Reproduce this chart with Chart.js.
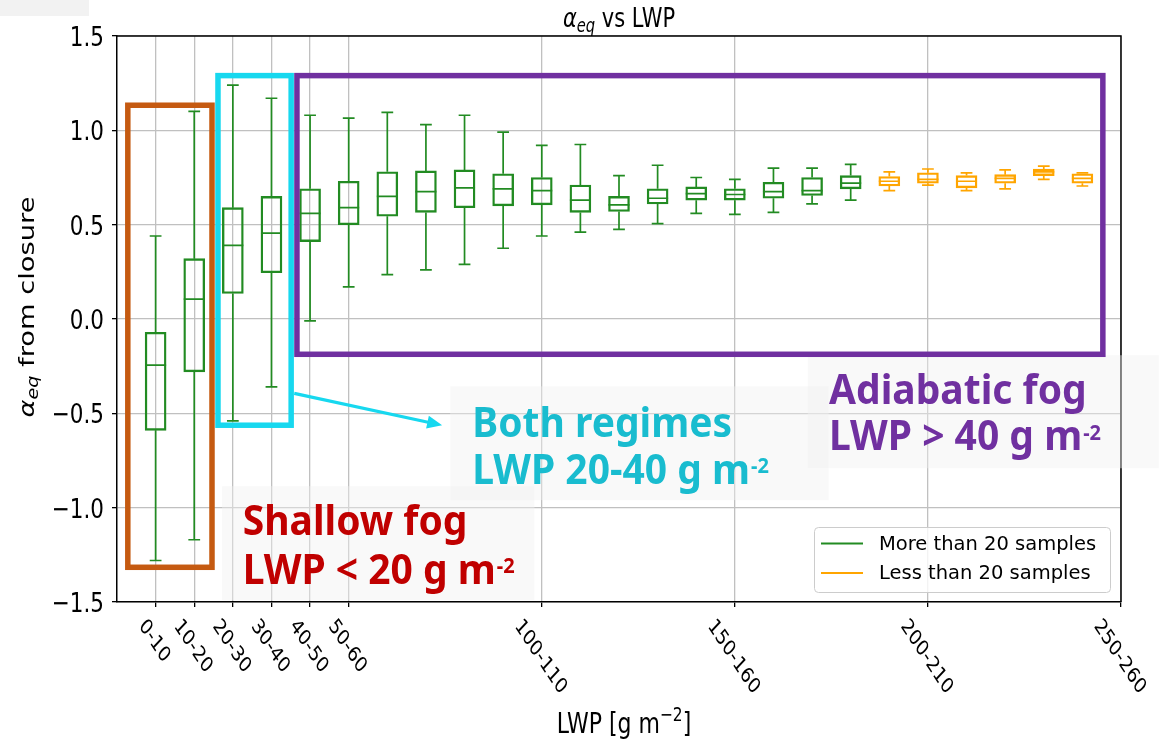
<!DOCTYPE html>
<html>
<head>
<meta charset="utf-8">
<script src="https://cdn.jsdelivr.net/npm/chart.js@4.4.1/dist/chart.umd.min.js"></script>
<style>
html, body { margin: 0; padding: 0; background: #fff; }
canvas { display: block; }
</style>
</head>
<body>
<canvas id="chart" width="1159" height="743"></canvas>
<script>
// LWP bins (g m-2)
const categories = [
    "0-10", "10-20", "20-30", "30-40", "40-50", "50-60", "60-70", "70-80", "80-90", "90-100",
    "100-110", "110-120", "120-130", "130-140", "140-150", "150-160", "160-170", "170-180",
    "180-190", "190-200", "200-210", "210-220", "220-230", "230-240", "240-250", "250-260"
];

const shownTicks = ["0-10", "10-20", "20-30", "30-40", "40-50", "50-60", "100-110", "150-160", "200-210", "250-260"];

const yTickLabels = ["\u22121.5", "\u22121.0", "\u22120.5", "0.0", "0.5", "1.0", "1.5"];

// box statistics per bin
const lowerWhisker = [-1.28, -1.17, -0.54, -0.36, -0.01, 0.17, 0.235, 0.26, 0.29, 0.375, 0.44, 0.46, 0.475, 0.505, 0.56, 0.555, 0.565, 0.61, 0.63, 0.68, 0.71, 0.68, 0.69, 0.74, 0.705];
const lowerQuartile = [-0.59, -0.28, 0.135, 0.245, 0.41, 0.50, 0.545, 0.565, 0.59, 0.60, 0.605, 0.565, 0.57, 0.61, 0.63, 0.63, 0.64, 0.655, 0.69, 0.705, 0.72, 0.695, 0.72, 0.76, 0.72];
const medians = [-0.245, 0.105, 0.39, 0.455, 0.56, 0.59, 0.65, 0.675, 0.695, 0.69, 0.68, 0.63, 0.605, 0.64, 0.665, 0.66, 0.675, 0.68, 0.72, 0.73, 0.74, 0.73, 0.745, 0.78, 0.745];
const upperQuartile = [-0.07, 0.32, 0.59, 0.65, 0.69, 0.73, 0.78, 0.785, 0.79, 0.77, 0.75, 0.71, 0.65, 0.69, 0.70, 0.69, 0.725, 0.75, 0.76, 0.755, 0.775, 0.76, 0.765, 0.795, 0.77];
const upperWhisker = [0.44, 1.10, 1.24, 1.17, 1.08, 1.065, 1.095, 1.03, 1.08, 0.99, 0.92, 0.925, 0.76, 0.815, 0.75, 0.74, 0.80, 0.80, 0.82, 0.78, 0.795, 0.775, 0.79, 0.81, 0.775];
const moreThan20 = [
    true, true, true, true, true, true, true, true, true, true,
    true, true, true, true, true, true, true, true, true,
    false, false, false, false, false, false
];

const seriesLabels = ["More than 20 samples", "Less than 20 samples"];
const seriesColors = ["#228b22", "#ffa500"];

// hand drawn regime boxes and notes, placed in data units
const regions = [
    { x0: -0.72, x1: 1.46, y0: -1.316, y1: 1.133, color: "#c55a11" },
    { x0: 1.615, x1: 3.51, y0: -0.563, y1: 1.29, color: "#17d8ef" },
    { x0: 3.66, x1: 24.53, y0: -0.187, y1: 1.29, color: "#7030a0" }
];

const notes = [
    { lines: ["Shallow fog", "LWP < 20 g m"], x: 2.256, y: [-1.146, -1.402], color: "#c00000", box: [1.72, 9.81, -0.886, -1.49] },
    { lines: ["Both regimes", "LWP 20-40 g m"], x: 8.2, y: [-0.625, -0.872], color: "#19bccf", box: [7.63, 17.43, -0.357, -0.96] },
    { lines: ["Adiabatic fog", "LWP > 40 g m"], x: 17.44, y: [-0.448, -0.696], color: "#7030a0", box: [16.89, 25.98, -0.192, -0.791] }
];

const arrow = { x0: 3.59, y0: -0.394, x1: 7.42, y1: -0.563, color: "#17d8ef" };

const STRETCH = 1.27;
const BOX_WIDTH = 21;

function drawRuns(ctx, runs, x, y, o)
{
    const size = o.size;
    const fontFor = r =>
        `${r.italic ? "italic " : ""}${(r.sub || r.sup) ? size * 0.7 : size}px "DejaVu Sans"`;

    const widths = runs.map(r =>
    {
        ctx.font = fontFor(r);
        return ctx.measureText(r.text).width;
    });

    const total = widths.reduce((a, b) => a + b, 0);

    ctx.save();
    ctx.translate(x, y);
    ctx.scale(1, o.stretch || 1);
    ctx.rotate(o.rotate || 0);
    ctx.fillStyle = o.color || "#000";
    ctx.textAlign = "left";
    ctx.textBaseline = "alphabetic";

    let cx = o.align === "center" ? -total / 2 : (o.align === "right" ? -total : 0);

    runs.forEach((r, i) =>
    {
        ctx.font = fontFor(r);
        const off = r.sub ? size * 0.2 : (r.sup ? -size * 0.42 : 0);
        ctx.fillText(r.text, cx, (o.dy || 0) + off);
        cx += widths[i];
    });

    ctx.restore();
}

const whiskers = {
    id: "whiskers",
    afterDatasetsDraw(chart)
    {
        const { ctx } = chart;
        const x = chart.scales.x;
        const y = chart.scales.y;

        ctx.save();
        ctx.lineWidth = 1.7;

        medians.forEach((m, i) =>
        {
            const cx = x.getPixelForValue(i);
            const half = BOX_WIDTH / 2;
            const cap = BOX_WIDTH * 0.28;

            ctx.strokeStyle = moreThan20[i] ? seriesColors[0] : seriesColors[1];
            ctx.beginPath();

            // whiskers
            ctx.moveTo(cx, y.getPixelForValue(upperQuartile[i]));
            ctx.lineTo(cx, y.getPixelForValue(upperWhisker[i]));
            ctx.moveTo(cx, y.getPixelForValue(lowerQuartile[i]));
            ctx.lineTo(cx, y.getPixelForValue(lowerWhisker[i]));

            // caps
            ctx.moveTo(cx - cap, y.getPixelForValue(upperWhisker[i]));
            ctx.lineTo(cx + cap, y.getPixelForValue(upperWhisker[i]));
            ctx.moveTo(cx - cap, y.getPixelForValue(lowerWhisker[i]));
            ctx.lineTo(cx + cap, y.getPixelForValue(lowerWhisker[i]));

            // median
            ctx.moveTo(cx - half, y.getPixelForValue(m));
            ctx.lineTo(cx + half, y.getPixelForValue(m));
            ctx.stroke();
        });

        ctx.restore();
    }
};

const overlay = {
    id: "overlay",
    afterDraw(chart)
    {
        const { ctx, chartArea: area } = chart;
        const x = chart.scales.x;
        const y = chart.scales.y;

        ctx.save();

        // stray grey patch at the top left of the picture
        ctx.fillStyle = "#f2f2f2";
        ctx.fillRect(0, 0, 89, 16);

        // top and right spines
        ctx.strokeStyle = "#000";
        ctx.lineWidth = 1.5;
        ctx.beginPath();
        ctx.moveTo(area.left, area.top);
        ctx.lineTo(area.right, area.top);
        ctx.lineTo(area.right, area.bottom);
        ctx.stroke();

        // note backgrounds
        notes.forEach(n =>
        {
            const l = x.getPixelForValue(n.box[0]);
            const r = x.getPixelForValue(n.box[1]);
            const t = y.getPixelForValue(n.box[2]);
            const b = y.getPixelForValue(n.box[3]);
            ctx.fillStyle = "rgba(240,240,240,0.42)";
            ctx.fillRect(l, t, r - l, b - t);
        });

        // regime frames
        ctx.lineWidth = 5.5;
        regions.forEach(g =>
        {
            const l = x.getPixelForValue(g.x0);
            const r = x.getPixelForValue(g.x1);
            const t = y.getPixelForValue(g.y1);
            const b = y.getPixelForValue(g.y0);
            ctx.strokeStyle = g.color;
            ctx.strokeRect(l, t, r - l, b - t);
        });

        // arrow
        const ax0 = x.getPixelForValue(arrow.x0);
        const ay0 = y.getPixelForValue(arrow.y0);
        const ax1 = x.getPixelForValue(arrow.x1);
        const ay1 = y.getPixelForValue(arrow.y1);
        const ang = Math.atan2(ay1 - ay0, ax1 - ax0);
        const head = 15;
        const hw = 6.5;
        const c = Math.cos(ang);
        const s = Math.sin(ang);

        ctx.strokeStyle = arrow.color;
        ctx.fillStyle = arrow.color;
        ctx.lineWidth = 3.2;
        ctx.beginPath();
        ctx.moveTo(ax0, ay0);
        ctx.lineTo(ax1 - c * head * 0.8, ay1 - s * head * 0.8);
        ctx.stroke();
        ctx.beginPath();
        ctx.moveTo(ax1, ay1);
        ctx.lineTo(ax1 - c * head - s * hw, ay1 - s * head + c * hw);
        ctx.lineTo(ax1 - c * head + s * hw, ay1 - s * head - c * hw);
        ctx.closePath();
        ctx.fill();

        // note texts
        notes.forEach(n =>
        {
            const tx = x.getPixelForValue(n.x);
            n.lines.forEach((line, i) =>
            {
                const ty = y.getPixelForValue(n.y[i]);
                ctx.save();
                ctx.translate(tx, ty);
                ctx.scale(1, 1.07);
                ctx.fillStyle = n.color;
                ctx.textAlign = "left";
                ctx.textBaseline = "alphabetic";
                ctx.font = 'bold 39px "Noto Sans"';
                ctx.fillText(line, 0, 0);

                if(i === 1)
                {
                    const w = ctx.measureText(line).width;
                    ctx.font = 'bold 20px "Noto Sans"';
                    ctx.fillText("-2", w + 1, -10);
                }

                ctx.restore();
            });
        });

        // legend
        const lw = 296;
        const lh = 65;
        const lx = area.right - 11 - lw;
        const ly = area.bottom - 10 - lh;

        ctx.fillStyle = "rgba(255,255,255,0.8)";
        ctx.strokeStyle = "#cccccc";
        ctx.lineWidth = 1;
        ctx.beginPath();
        ctx.roundRect(lx + 0.5, ly + 0.5, lw, lh, 4);
        ctx.fill();
        ctx.stroke();

        seriesLabels.forEach((label, i) =>
        {
            const rowY = ly + 16.5 + i * 29.5;
            ctx.strokeStyle = seriesColors[i];
            ctx.lineWidth = 2;
            ctx.beginPath();
            ctx.moveTo(lx + 7, rowY);
            ctx.lineTo(lx + 49, rowY);
            ctx.stroke();

            ctx.fillStyle = "#000";
            ctx.font = '19.5px "DejaVu Sans"';
            ctx.textAlign = "left";
            ctx.textBaseline = "middle";
            ctx.fillText(label, lx + 65, rowY + 1);
        });

        ctx.restore();

        // y tick labels
        y.ticks.forEach((t, i) =>
        {
            drawRuns(ctx, [{ text: yTickLabels[i] }], area.left - 13, y.getPixelForValue(t.value),
                { size: 21.5, stretch: STRETCH, align: "right", dy: 21.5 * 0.365 });
        });

        // x tick labels, rotated
        const theta = 50 * Math.PI / 180;
        const xs = 17;
        x.ticks.forEach(t =>
        {
            const label = categories[t.value];
            ctx.font = `${xs}px "DejaVu Sans"`;
            const w = ctx.measureText(label).width;
            const h = 0.73 * xs;
            const H = STRETCH * (w * Math.sin(theta) + h * Math.cos(theta));
            drawRuns(ctx, [{ text: label }], x.getPixelForValue(t.value), area.bottom + 14 + H / 2,
                { size: xs, stretch: STRETCH, rotate: theta, align: "center", dy: xs * 0.365 });
        });

        // title
        drawRuns(ctx, [
            { text: "\u03b1", italic: true },
            { text: "eq", italic: true, sub: true },
            { text: " vs LWP" }
        ], (area.left + area.right) / 2, 27, { size: 21, stretch: STRETCH, align: "center" });

        // axis titles
        drawRuns(ctx, [
            { text: "LWP [g m" },
            { text: "\u22122", sup: true },
            { text: "]" }
        ], (area.left + area.right) / 2 + 5, 733, { size: 22, stretch: STRETCH, align: "center" });

        drawRuns(ctx, [
            { text: "\u03b1", italic: true },
            { text: "eq", italic: true, sub: true },
            { text: " from closure" }
        ], 33.5, (area.top + area.bottom) / 2 - 12, { size: 21.5, stretch: STRETCH, rotate: -Math.PI / 2, align: "center" });
    }
};

const greenData = [];
const orangeData = [];

medians.forEach((m, i) =>
{
    const point = { x: i, y: [lowerQuartile[i], upperQuartile[i]] };
    (moreThan20[i] ? greenData : orangeData).push(point);
});

const tickPositions = shownTicks.map(l => categories.indexOf(l));

const gridColor = "#c0c0c0";

new Chart(
    document.getElementById("chart"),
    {
        type: "bar",
        data:
        {
            datasets: [
                {
                    label: seriesLabels[0],
                    data: greenData,
                    borderColor: seriesColors[0],
                    backgroundColor: "rgba(0,0,0,0)",
                    borderWidth: 1.7,
                    borderSkipped: false,
                    barThickness: BOX_WIDTH,
                    grouped: false
                },
                {
                    label: seriesLabels[1],
                    data: orangeData,
                    borderColor: seriesColors[1],
                    backgroundColor: "rgba(0,0,0,0)",
                    borderWidth: 1.7,
                    borderSkipped: false,
                    barThickness: BOX_WIDTH,
                    grouped: false
                }
            ]
        },
        options:
        {
            responsive: false,
            animation: false,
            devicePixelRatio: 1,
            layout: { padding: { left: 112, right: 38, top: 36, bottom: 136 } },
            plugins:
            {
                legend: { display: false },
                tooltip: { enabled: false }
            },
            scales:
            {
                x:
                {
                    type: "linear",
                    min: -1,
                    max: 25,
                    offset: false,
                    afterBuildTicks: scale =>
                    {
                        scale.ticks = tickPositions.map(v => ({ value: v }));
                    },
                    ticks: { display: false },
                    grid: { color: gridColor, lineWidth: 1.3, tickColor: "#000", tickWidth: 1.3, tickLength: 5, offset: false },
                    border: { color: "#000", width: 1.5 }
                },
                y:
                {
                    min: -1.5,
                    max: 1.5,
                    ticks: { display: false, stepSize: 0.5 },
                    grid: { color: gridColor, lineWidth: 1.3, tickColor: "#000", tickWidth: 1.3, tickLength: 5 },
                    border: { color: "#000", width: 1.5 }
                }
            }
        },
        plugins: [whiskers, overlay]
    }
);
</script>
</body>
</html>
